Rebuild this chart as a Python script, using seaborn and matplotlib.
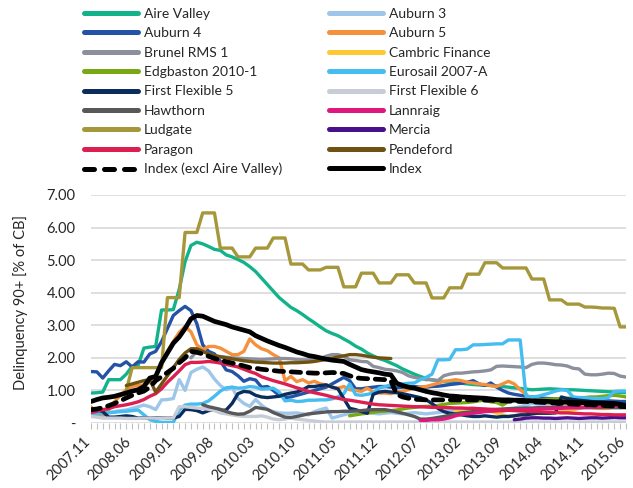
import numpy as np
import pandas as pd
import matplotlib
matplotlib.use('Agg')
import matplotlib.pyplot as plt
from matplotlib.lines import Line2D
import seaborn as sns

nan = np.nan

# monthly observations 2007.11 .. 2015.06 (92 months)
months = pd.period_range('2007-11', '2015-06', freq='M')
tick_labels = ['2007.11', '2008.06', '2009.01', '2009.08', '2010.03', '2010.10', '2011.05',
               '2011.12', '2012.07', '2013.02', '2013.09', '2014.04', '2014.11', '2015.06']

# delinquency 90+ in % of current balance, one row per calendar year
aire_valley = [0.92, 0.93,
               0.95, 1.33, 1.33, 1.33, 1.5, 1.74, 1.76, 2.3, 2.33, 2.35, 3.47, 3.47,
               3.48, 4.1, 4.95, 5.45, 5.55, 5.5, 5.42, 5.33, 5.3, 5.16, 5.1, 5.02,
               4.93, 4.8, 4.65, 4.45, 4.25, 4.05, 3.85, 3.7, 3.55, 3.45, 3.33, 3.2,
               3.08, 2.95, 2.83, 2.75, 2.68, 2.58, 2.48, 2.36, 2.27, 2.15, 2.06, 1.98,
               1.92, 1.84, 1.76, 1.66, 1.58, 1.5, 1.43, 1.37, 1.32, 1.3, 1.27, 1.25,
               1.23, 1.22, 1.2, 1.18, 1.17, 1.16, 1.15, 1.14, 1.12, 1.1, 1.08, 1.06,
               1.04, 1.02, 1.03, 1.04, 1.05, 1.04, 1.03, 1.02, 1.02, 1.01, 1.0, 0.99,
               0.98, 0.97, 0.96, 0.95, 0.94, 0.93]
auburn_3 = [0.2, 0.22,
            0.25, 0.3, 0.35, 0.38, 0.4, 0.45, 0.5, 0.55, 0.5, 0.41, 0.71, 0.72,
            0.75, 1.33, 1.0, 1.55, 1.65, 1.72, 1.6, 1.35, 1.15, 1.02, 1.1, 0.75,
            0.6, 0.51, 0.72, 0.55, 0.41, 0.35, 0.31, 0.3, 0.3, 0.31, 0.28, 0.25,
            0.35, 0.41, 0.46, 0.15, 0.2, 0.25, 0.3, 0.32, 0.35, 0.33, 0.3, 0.28,
            0.3, 0.32, 0.3, 0.28, 0.3, 0.32, 0.3, 0.28, 0.3, 0.32, 0.35, 0.38,
            0.4, 0.42, 0.44, 0.45, 0.43, 0.42, 0.4, 0.38, 0.36, 0.4, 0.45, 0.5,
            0.55, 0.6, 0.58, 0.56, 0.55, 0.6, 0.62, 0.6, 0.58, 0.56, 0.55, 0.55,
            0.56, 0.57, 0.58, 0.6, 0.62, 0.63]
auburn_4 = [1.58, 1.57,
            1.38, 1.6, 1.8, 1.76, 1.88, 1.72, 1.88, 1.87, 2.12, 2.2, 2.5, 2.9,
            3.3, 3.45, 3.58, 3.45, 3.05, 2.4, 2.2, 2.12, 1.9, 1.63, 1.58, 1.45,
            1.28, 1.36, 1.32, 1.1, 1.12, 1.0, 0.85, 0.78, 0.8, 0.85, 0.9, 0.95,
            1.0, 1.05, 1.1, 1.2, 1.3, 1.4, 1.3, 1.05, 1.05, 1.08, 1.1, 1.12,
            1.12, 1.1, 1.08, 1.1, 1.12, 1.12, 1.1, 1.1, 1.12, 1.13, 1.15, 1.18,
            1.2, 1.22, 1.25, 1.3, 1.2, 1.15, 1.23, 1.1, 1.0, 0.92, 0.88, 0.85,
            0.82, 0.8, 0.78, 0.76, 0.75, 0.74, 0.73, 0.72, 0.72, 0.71, 0.7, 0.7,
            0.69, 0.68, 0.68, 0.67, 0.66, 0.66]
auburn_5 = [0.5, 0.25,
            0.2, 0.4, 0.65, 0.85, 1.02, 1.12, 1.15, 1.17, 1.25, 1.45, 1.8, 2.2,
            2.5, 2.78, 2.96, 2.8, 2.4, 2.25, 2.35, 2.35, 2.3, 2.2, 2.1, 2.1,
            2.2, 2.58, 2.4, 2.28, 2.22, 2.1, 2.0, 1.3, 1.43, 1.27, 1.33, 1.23,
            1.28, 1.2, 1.17, 1.1, 1.07, 1.12, 1.02, 1.0, 0.97, 1.07, 0.95, 0.92,
            0.92, 0.9, 0.95, 0.98, 1.02, 1.07, 1.1, 1.12, 1.17, 1.22, 1.28, 1.3,
            1.33, 1.3, 1.25, 1.23, 1.2, 1.18, 1.15, 1.12, 1.2, 1.28, 1.2, 1.02,
            0.88, 0.7, 0.66, 0.63, 0.61, 0.6, 0.6, 0.58, 0.57, 0.56, 0.55, 0.55,
            0.54, 0.53, 0.52, 0.52, 0.51, 0.5]
brunel_rms_1 = [nan, nan,
                nan, nan, nan, nan, nan, nan, nan, nan, nan, nan, nan, nan,
                nan, nan, nan, 2.0, 2.2, 2.2, 2.12, 2.06, 2.04, 2.02, 2.0, 1.99,
                1.98, 1.97, 1.96, 1.95, 1.96, 1.97, 1.98, 1.98, 1.97, 1.95, 1.94, 1.94,
                1.96, 1.98, 2.05, 2.1, 2.1, 2.05, 1.94, 1.92, 1.89, 1.88, 1.74, 1.7,
                1.65, 1.63, 1.6, 1.55, 1.45, 1.4, 1.37, 1.33, 1.33, 1.3, 1.45, 1.5,
                1.53, 1.53, 1.55, 1.57, 1.58, 1.6, 1.63, 1.74, 1.75, 1.74, 1.73, 1.72,
                1.7, 1.8, 1.84, 1.84, 1.82, 1.79, 1.78, 1.75, 1.68, 1.66, 1.5, 1.48,
                1.48, 1.5, 1.53, 1.52, 1.44, 1.41]
cambric_finance = [nan, nan,
                   nan, nan, nan, nan, nan, nan, nan, nan, nan, nan, nan, nan,
                   nan, nan, nan, nan, nan, nan, nan, nan, nan, nan, nan, nan,
                   nan, nan, nan, nan, nan, nan, nan, nan, nan, nan, nan, nan,
                   nan, nan, nan, nan, nan, nan, nan, nan, nan, nan, nan, nan,
                   nan, nan, nan, nan, nan, nan, nan, nan, nan, nan, nan, nan,
                   0.35, 0.35, 0.36, 0.36, 0.37, 0.37, 0.36, 0.3, 0.25, 0.2, 0.22, 0.24,
                   0.26, 0.28, 0.3, 0.3, 0.32, 0.34, 0.36, 0.38, 0.4, 0.45, 0.5, 0.48,
                   0.45, 0.44, 0.45, 0.5, 0.52, 0.48]
edgbaston_2010_1 = [nan, nan,
                    nan, nan, nan, nan, nan, nan, nan, nan, nan, nan, nan, nan,
                    nan, nan, nan, nan, nan, nan, nan, nan, nan, nan, nan, nan,
                    nan, nan, nan, nan, nan, nan, nan, nan, nan, nan, nan, nan,
                    nan, nan, nan, nan, nan, nan, 0.22, 0.25, 0.28, 0.3, 0.33, 0.35,
                    0.36, 0.38, 0.4, 0.43, 0.46, 0.48, 0.5, 0.51, 0.52, 0.54, 0.57, 0.6,
                    0.61, 0.62, 0.63, 0.65, 0.68, 0.7, 0.65, 0.63, 0.55, 0.66, 0.7, 0.68,
                    0.66, 0.68, 0.7, 0.72, 0.73, 0.74, 0.75, 0.76, 0.77, 0.78, 0.78, 0.8,
                    0.8, 0.82, 0.84, 0.85, 0.83, 0.8]
eurosail_2007_a = [0.25, 0.28,
                   0.3, 0.32, 0.33, 0.35, 0.36, 0.38, 0.4, 0.25, 0.1, 0.05, 0.02, 0.02,
                   0.02, 0.4, 0.55, 0.58, 0.58, 0.6, 0.68, 0.82, 0.98, 1.08, 1.1, 1.07,
                   1.08, 1.12, 1.1, 1.04, 1.05, 1.07, 0.95, 0.68, 0.7, 0.66, 0.67, 0.7,
                   0.7, 0.71, 0.71, 0.74, 0.8, 0.9, 1.2, 0.87, 0.85, 0.88, 0.92, 1.07,
                   1.12, 1.17, 1.2, 1.2, 1.22, 1.23, 1.33, 1.4, 1.5, 1.94, 1.94, 1.95,
                   2.25, 2.25, 2.27, 2.4, 2.4, 2.41, 2.42, 2.43, 2.43, 2.55, 2.55, 2.55,
                   0.82, 0.8, 0.82, 0.87, 0.92, 0.98, 1.02, 1.0, 0.8, 0.78, 0.77, 0.76,
                   0.75, 0.75, 0.78, 0.97, 0.98, 0.98]
first_flexible_5 = [0.35, 0.41,
                    0.35, 0.18, 0.18, 0.2, 0.22, 0.2, 0.15, 0.16, 0.15, 0.16, 0.15, 0.15,
                    0.15, 0.2, 0.42, 0.41, 0.38, 0.31, 0.38, 0.41, 0.38, 0.4, 0.6, 0.9,
                    0.97, 0.95, 0.85, 0.8, 0.78, 0.8, 0.82, 0.88, 0.92, 0.95, 1.02, 1.12,
                    1.12, 1.15, 1.17, 1.1, 1.05, 0.75, 0.45, 0.41, 0.35, 0.3, 0.88, 0.95,
                    0.97, 0.95, 0.93, 0.9, 0.86, 0.82, 0.78, 0.71, 0.6, 0.45, 0.35, 0.3,
                    0.28, 0.25, 0.22, 0.2, 0.2, 0.22, 0.2, 0.18, 0.2, 0.2, 0.22, 0.25,
                    0.25, 0.28, 0.3, 0.3, 0.3, 0.31, 0.8, 0.75, 0.72, 0.7, 0.68, 0.66,
                    0.65, 0.64, 0.63, 0.62, 0.6, 0.58]
first_flexible_6 = [0.2, 0.18,
                    0.15, 0.15, 0.15, 0.15, 0.14, 0.14, 0.14, 0.15, 0.15, 0.15, 0.14, 0.15,
                    0.15, 0.5, 0.5, 0.48, 0.46, 0.45, 0.42, 0.38, 0.31, 0.28, 0.25, 0.22,
                    0.2, 0.2, 0.2, 0.22, 0.18, 0.12, 0.1, 0.12, 0.15, 0.12, 0.1, 0.08,
                    0.06, 0.04, 0.03, 0.03, 0.03, 0.03, 0.03, 0.03, 0.03, 0.03, 0.03, 0.03,
                    0.03, 0.03, 0.03, 0.03, 0.03, 0.03, 0.03, 0.03, 0.03, 0.03, 0.03, 0.03,
                    0.03, 0.03, 0.03, 0.03, 0.03, 0.03, 0.03, 0.03, 0.03, 0.03, 0.03, 0.03,
                    0.03, 0.03, 0.03, 0.03, 0.03, 0.03, 0.03, 0.03, 0.03, 0.03, 0.03, 0.03,
                    0.03, 0.03, 0.03, 0.03, 0.03, 0.03]
hawthorn = [nan, nan,
            nan, nan, nan, nan, nan, nan, nan, nan, nan, nan, nan, nan,
            nan, nan, nan, nan, nan, 0.56, 0.5, 0.46, 0.42, 0.35, 0.3, 0.27,
            0.28, 0.36, 0.48, 0.45, 0.42, 0.32, 0.25, 0.18, 0.17, 0.2, 0.24, 0.28,
            0.3, 0.32, 0.34, 0.35, 0.35, 0.36, 0.36, 0.37, 0.38, 0.4, 0.41, 0.41,
            0.41, 0.38, 0.34, 0.3, 0.25, 0.2, 0.12, 0.12, 0.14, 0.17, 0.2, 0.24,
            0.28, 0.31, 0.33, 0.35, 0.37, 0.39, 0.41, 0.42, 0.43, 0.44, 0.45, 0.45,
            0.46, 0.46, 0.47, 0.47, 0.47, 0.48, 0.48, 0.48, 0.47, 0.47, 0.47, 0.47,
            0.47, 0.47, 0.47, 0.47, 0.47, 0.47]
lannraig = [nan, nan,
            nan, nan, nan, nan, nan, nan, nan, nan, nan, nan, nan, nan,
            nan, nan, nan, nan, nan, nan, nan, nan, nan, nan, nan, nan,
            nan, nan, nan, nan, nan, nan, nan, nan, nan, nan, nan, nan,
            nan, nan, nan, nan, nan, nan, nan, nan, nan, nan, nan, nan,
            nan, nan, nan, nan, nan, nan, 0.08, 0.08, 0.1, 0.1, 0.12, 0.16,
            0.22, 0.26, 0.28, 0.3, 0.32, 0.35, 0.36, 0.37, 0.38, 0.39, 0.4, 0.41,
            0.41, 0.42, 0.43, 0.44, 0.44, 0.45, 0.45, 0.46, 0.47, 0.47, 0.48, 0.48,
            0.49, 0.5, 0.5, 0.51, 0.55, 0.5]
ludgate = [nan, nan,
           nan, nan, nan, nan, 1.0, 1.7, 1.7, 1.7, 1.7, 1.7, 1.7, 3.85,
           3.85, 3.85, 5.85, 5.85, 5.85, 6.45, 6.45, 6.45, 5.37, 5.37, 5.37, 5.1,
           5.1, 5.1, 5.37, 5.37, 5.37, 5.68, 5.68, 5.68, 4.88, 4.88, 4.88, 4.7,
           4.7, 4.7, 4.78, 4.78, 4.78, 4.18, 4.18, 4.18, 4.6, 4.6, 4.6, 4.3,
           4.3, 4.3, 4.55, 4.55, 4.55, 4.3, 4.3, 4.3, 3.84, 3.84, 3.84, 4.15,
           4.15, 4.15, 4.57, 4.57, 4.57, 4.92, 4.92, 4.92, 4.76, 4.76, 4.76, 4.76,
           4.76, 4.42, 4.42, 4.42, 3.78, 3.78, 3.78, 3.65, 3.65, 3.65, 3.56, 3.56,
           3.55, 3.53, 3.53, 3.52, 2.95, 2.95]
mercia = [nan, nan,
          nan, nan, nan, nan, nan, nan, nan, nan, nan, nan, nan, nan,
          nan, nan, nan, nan, nan, nan, nan, nan, nan, nan, nan, nan,
          nan, nan, nan, nan, nan, nan, nan, nan, nan, nan, nan, nan,
          nan, nan, nan, nan, nan, nan, nan, nan, nan, nan, nan, nan,
          nan, nan, nan, nan, nan, nan, nan, nan, nan, nan, nan, nan,
          nan, nan, nan, nan, nan, nan, nan, nan, nan, nan, 0.1, 0.12,
          0.15, 0.16, 0.16, 0.15, 0.15, 0.14, 0.15, 0.16, 0.15, 0.14, 0.15, 0.16,
          0.16, 0.15, 0.16, 0.17, 0.16, 0.16]
paragon = [0.32, 0.36,
           0.41, 0.44, 0.5, 0.53, 0.56, 0.6, 0.65, 0.72, 0.82, 0.9, 1.05, 1.25,
           1.42, 1.6, 1.79, 1.86, 1.86, 1.87, 1.89, 1.87, 1.84, 1.8, 1.76, 1.72,
           1.65, 1.58, 1.52, 1.42, 1.36, 1.3, 1.25, 1.2, 1.14, 1.08, 1.03, 0.97,
           0.93, 0.89, 0.85, 0.8, 0.76, 0.72, 0.7, 0.67, 0.64, 0.61, 0.58, 0.56,
           0.55, 0.54, 0.53, 0.52, 0.51, 0.5, 0.5, 0.49, 0.48, 0.48, 0.47, 0.47,
           0.46, 0.46, 0.45, 0.45, 0.44, 0.43, 0.42, 0.41, 0.4, 0.39, 0.38, 0.37,
           0.36, 0.35, 0.35, 0.34, 0.33, 0.32, 0.31, 0.31, 0.3, 0.29, 0.28, 0.28,
           0.27, 0.26, 0.26, 0.25, 0.25, 0.25]
pendeford = [nan, nan,
             nan, nan, nan, nan, 1.15, 1.2, 1.25, 1.3, 1.33, 0.95, 1.2, 1.45,
             1.7, 1.95, 2.15, 2.28, 2.28, 2.2, 2.12, 2.07, 2.03, 2.0, 1.97, 1.94,
             1.91, 1.89, 1.87, 1.86, 1.85, 1.84, 1.84, 1.84, 1.85, 1.85, 1.86, 1.87,
             1.89, 1.92, 1.95, 1.99, 2.03, 2.06, 2.1, 2.1, 2.08, 2.05, 2.02, 2.0,
             1.99, 1.98, nan, nan, nan, nan, nan, nan, nan, nan, nan, nan,
             nan, nan, nan, nan, nan, nan, nan, nan, nan, nan, nan, nan,
             nan, nan, nan, nan, nan, nan, nan, nan, nan, nan, nan, nan,
             nan, nan, nan, nan, nan, nan]
index_excl_aire = [0.41, 0.43,
                   0.47, 0.53, 0.6, 0.68, 0.77, 0.85, 0.92, 0.98, 1.1, 1.3, 1.42, 1.55,
                   1.68, 1.85, 2.0, 2.2, 2.17, 2.12, 2.05, 1.98, 1.93, 1.88, 1.84, 1.8,
                   1.75, 1.7, 1.68, 1.65, 1.63, 1.61, 1.59, 1.58, 1.57, 1.56, 1.55, 1.54,
                   1.53, 1.53, 1.54, 1.55, 1.54, 1.52, 1.45, 1.39, 1.37, 1.36, 1.35, 1.34,
                   1.33, 1.3, 0.88, 0.8, 0.76, 0.73, 0.72, 0.71, 0.71, 0.71, 0.71, 0.71,
                   0.71, 0.71, 0.71, 0.71, 0.71, 0.7, 0.7, 0.69, 0.68, 0.67, 0.67, 0.66,
                   0.66, 0.65, 0.64, 0.63, 0.62, 0.61, 0.6, 0.59, 0.58, 0.57, 0.56, 0.56,
                   0.55, 0.54, 0.53, 0.52, 0.51, 0.5]
index_all = [0.66, 0.72,
             0.77, 0.79, 0.82, 0.87, 0.92, 0.98, 1.02, 1.12, 1.38, 1.43, 1.85, 2.15,
             2.45, 2.64, 2.9, 3.2, 3.3, 3.28, 3.2, 3.12, 3.07, 3.02, 2.95, 2.9,
             2.85, 2.8, 2.68, 2.6, 2.52, 2.45, 2.38, 2.32, 2.25, 2.18, 2.13, 2.07,
             2.04, 2.0, 1.96, 1.93, 1.91, 1.89, 1.8, 1.72, 1.64, 1.6, 1.57, 1.54,
             1.5, 1.48, 1.22, 1.15, 1.1, 1.07, 1.02, 0.97, 0.93, 0.9, 0.86, 0.83,
             0.82, 0.8, 0.79, 0.78, 0.77, 0.76, 0.74, 0.72, 0.71, 0.71, 0.7, 0.7,
             0.69, 0.68, 0.67, 0.67, 0.66, 0.65, 0.65, 0.64, 0.63, 0.63, 0.62, 0.62,
             0.61, 0.61, 0.6, 0.6, 0.57, 0.52]

deals = {
    'Aire Valley': (aire_valley, '#12B38B'),
    'Auburn 3': (auburn_3, '#9DC6EA'),
    'Auburn 4': (auburn_4, '#2452A6'),
    'Auburn 5': (auburn_5, '#F5913D'),
    'Brunel RMS 1': (brunel_rms_1, '#8C8F9C'),
    'Cambric Finance': (cambric_finance, '#FFC933'),
    'Edgbaston 2010-1': (edgbaston_2010_1, '#78A814'),
    'Eurosail 2007-A': (eurosail_2007_a, '#45BDF0'),
    'First Flexible 5': (first_flexible_5, '#0B2D5E'),
    'First Flexible 6': (first_flexible_6, '#C8CCD6'),
    'Hawthorn': (hawthorn, '#58585A'),
    'Lannraig': (lannraig, '#E0187E'),
    'Ludgate': (ludgate, '#A6973A'),
    'Mercia': (mercia, '#4A0F8A'),
    'Paragon': (paragon, '#DC1F50'),
    'Pendeford': (pendeford, '#6F5210'),
}
indices = {
    'Index (excl Aire Valley)': index_excl_aire,
    'Index': index_all,
}

frames = []
for name, (vals, _) in deals.items():
    assert len(vals) == len(months), name
    frames.append(pd.DataFrame({'month': np.arange(len(months)), 'value': vals, 'series': name}))
deal_df = pd.concat(frames).dropna()

frames = []
for name, vals in indices.items():
    assert len(vals) == len(months), name
    frames.append(pd.DataFrame({'month': np.arange(len(months)), 'value': vals, 'series': name}))
idx_df = pd.concat(frames).dropna()

sns.set_theme(style='white')
plt.rcParams['font.family'] = ['Lato', 'DejaVu Sans']
text_col = '#262626'

fig = plt.figure(figsize=(6.33, 4.88), dpi=100)
ax = fig.add_axes([91 / 633, 1 - 423 / 488, 535 / 633, 228 / 488])

pal = {k: c for k, (_, c) in deals.items()}
sns.lineplot(data=deal_df, x='month', y='value', hue='series', hue_order=list(deals),
             palette=pal, linewidth=2.4, estimator=None, legend=False, ax=ax,
             solid_joinstyle='round', solid_capstyle='round')
sns.lineplot(data=idx_df, x='month', y='value', hue='series', style='series',
             hue_order=list(indices), style_order=list(indices),
             palette={k: 'black' for k in indices},
             dashes={'Index (excl Aire Valley)': (2, 1.6), 'Index': ''},
             linewidth=3.4, estimator=None, legend=False, ax=ax,
             solid_joinstyle='round', dash_capstyle='round')

ax.set_xlim(0, len(months) - 1)
ax.set_ylim(0, 7)
ax.set_xlabel('')
ax.set_ylabel('')
for s in ax.spines.values():
    s.set_visible(False)
ax.grid(axis='y', color='#D9D9D9', linewidth=1.2)
ax.set_axisbelow(True)

ax.set_yticks(range(8))
ax.set_yticklabels(['-'] + [f'{v:.2f}' for v in range(1, 8)])
ax.set_xticks(range(0, len(months), 7))
ax.set_xticklabels(tick_labels, rotation=45, ha='right', va='baseline', rotation_mode='anchor')
ax.set_xticks(range(len(months)), minor=True)
ax.tick_params(axis='y', length=0, pad=11, labelsize=10.5, labelcolor=text_col)
ax.tick_params(axis='x', which='both', bottom=True, length=4, width=0.8,
               color='#BFBFBF', direction='out', pad=10, labelsize=10.5, labelcolor=text_col)

fig.text(21 / 633, 1 - 303 / 488, 'Delinquency 90+ [% of CB]', rotation=90,
         ha='center', va='center', fontsize=10.5, color=text_col)

# legend laid out row-wise in two columns, like the original
def handle(name, color, dashed=False):
    if dashed:
        return Line2D([0], [0], color=color, lw=3.6, linestyle=(0, (2, 2)), dash_capstyle='round')
    return Line2D([0], [0], color=color, lw=3.6, solid_capstyle='round')

entries = [(n, c, False) for n, (_, c) in deals.items()]
entries += [('Index (excl Aire Valley)', 'black', True), ('Index', 'black', False)]
left = entries[0::2]
right = entries[1::2]
for col, x0 in ((left, 84), (right, 329)):
    fig.legend([handle(n, c, d) for n, c, d in col], [n for n, _, _ in col],
               loc='upper left', bbox_to_anchor=(x0 / 633, 1 - 8 / 488),
               frameon=False, borderpad=0, borderaxespad=0, handlelength=3.9,
               handletextpad=0.4, labelspacing=0.53, fontsize=10, labelcolor=text_col)

fig.savefig('out.png', dpi=100)
